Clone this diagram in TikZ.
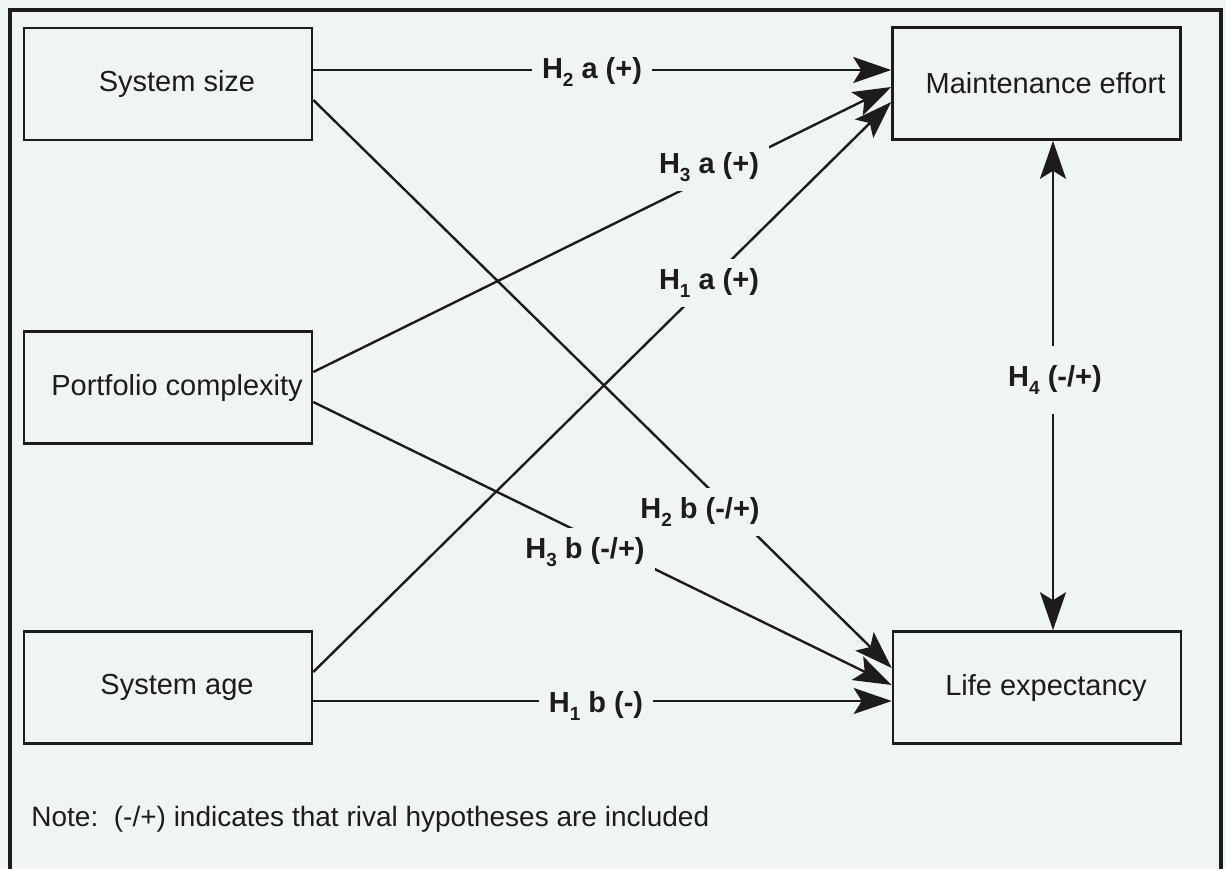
\documentclass[tikz,border=0pt]{standalone}
\usepackage{fontspec}
\setmainfont{Liberation Sans}
\usetikzlibrary{arrows.meta}
\definecolor{bg}{RGB}{240,245,243}
\definecolor{ink}{RGB}{28,28,28}
\newcommand\hsub[1]{\raisebox{-0.5ex}{\fontsize{9.5pt}{10pt}\selectfont #1}}
\newcommand\shiftr{\hspace*{9pt}}
\begin{document}
\begin{tikzpicture}[x=0.5pt,y=-0.5pt,
  box/.style={draw=ink,line width=1.3pt,fill=bg,minimum width=144pt,minimum height=56pt,inner sep=0pt,font=\fontsize{14.5pt}{17pt}\selectfont,text=ink},
  lab/.style={fill=bg,inner xsep=5pt,inner ysep=5pt,font=\bfseries\fontsize{14.5pt}{17pt}\selectfont,text=ink},
  conn/.style={draw=ink,line width=1.2pt,-{Stealth[length=19pt,width=13pt,inset=4pt]}},
  conntwo/.style={draw=ink,line width=1.2pt,{Stealth[length=19pt,width=13pt,inset=4pt]}-{Stealth[length=19pt,width=13pt,inset=4pt]}},
]
\fill[bg] (0,0) rectangle (1226,869);
\useasboundingbox (0,0) rectangle (1226,869);
\draw[ink,line width=2pt] (10,869) -- (10,10) -- (1221,10) -- (1221,869);

\node[box] (size)  at (168,84)    {\shiftr System size};
\node[box] (port)  at (168,387.5) {\shiftr Portfolio complexity};
\node[box] (age)   at (168,687.5) {\shiftr System age};
\node[box] (maint) at (1036.5,83.5) {\shiftr Maintenance effort};
\node[box] (life)  at (1037,687.5) {\shiftr Life expectancy};

\coordinate (h4x) at (1053,0);

% connectors
\draw[conn] ([yshift=7pt]size.east) -- ([yshift=6.75pt]maint.west);
\draw[conn] ([yshift=7.75pt]port.east) -- ([yshift=-1.75pt]maint.west);
\draw[conn] ([yshift=7.75pt]age.east) -- ([yshift=-9.25pt]maint.west);
\draw[conn] ([yshift=-8pt]size.east) -- ([yshift=9.75pt]life.west);
\draw[conn] ([yshift=-7.25pt]port.east) -- ([yshift=1.25pt]life.west);
\draw[conn] ([yshift=-6.75pt]age.east) -- ([yshift=-6.75pt]life.west);
\draw[conntwo] (maint.south -| h4x) -- (life.north -| h4x);

% labels
\node[lab] (l2a) at (592,72)  {H\hsub{2} a (+)};
\node[lab] (l3a) at (709,167) {H\hsub{3} a (+)};
\node[lab] (l1a) at (709,283) {H\hsub{1} a (+)};
\node[lab] (l2b) at (700,512) {H\hsub{2} b (-/+)};
\node[lab] (l3b) at (585,552) {H\hsub{3} b (-/+)};
\node[lab] (l1b) at (596,706) {H\hsub{1} b (-)};
\node[lab,inner ysep=10pt] (l4) at (1055,380) {H\hsub{4} (-/+)};

\node[anchor=base west,inner sep=0pt,font=\fontsize{14pt}{17pt}\selectfont,text=ink] (note) at (31,826) {Note:\ \ (-/+) indicates that rival hypotheses are included};
\end{tikzpicture}
\end{document}
